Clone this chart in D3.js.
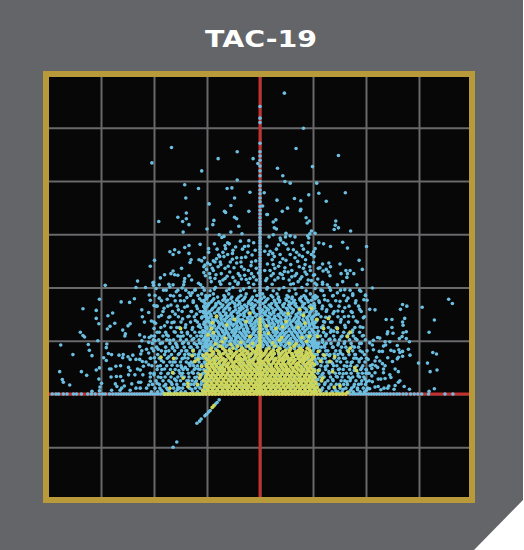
<!DOCTYPE html>
<html><head><meta charset="utf-8">
<script src="https://cdn.jsdelivr.net/npm/d3@7"></script>
<style>html,body{margin:0;padding:0;background:#fff}svg{display:block}</style></head>
<body><div id="c"></div>
<script>
const chartTitle = "TAC-19";
const xTickValues = [-3,-2,-1,0,1,2,3];
const yTickValues = [-1,0,1,2,3,4,5];
// values are in hundredths of an axis unit
const centerBlueY = [3,8,14,19,24,30,35,41,46,52,57,63,68,74,79,85,90,96,101,107,112,118,123,129,134,140,145,151,156,162,167,173,178,184,189,195,200,206,211,217,222,228,233,239,244,250,255,261,266,272,277,283,288,294,300,305,311,318,324,331,338,345,352,361,368,376,383,391,399,410,419,428,439,447,455,471,510,518,540];
const centerYellowY = [3,9,15,21,27,33,39,45,51,57,63,69,75,81,87,93,99,105,111,117,123,129,135,141];
const axisBlueX = [-392,-385,-380,-371,-364,-352,-346,-337,-325,-318,-311,-303,-297,-292,-284,-278,-272,-267,-262,-257,-252,-247,-242,-237,-232,-227,-222,-217,-212,-207,-202,-197,-192,-187,-182,-177,-172,-167,-162,-157,-152,-147,-142,-137,-132,-127,-122,-117,-112,-107,170,175,180,185,190,195,200,205,210,215,220,225,230,235,240,246,252,258,263,270,276,284,291,298,305,318,349,364];
const axisYellowX = [-180,-174,-168,-162,-156,-150,-144,-138,-132,-126,-120,-114,-108,-102,-96,-90,-84,-78,-72,-66,-60,-54,-48,-42,-36,-30,-24,-18,-12,-6,0,6,12,18,24,30,36,42,48,54,60,66,72,78,84,90,96,102,108,114,120,126,132,138,144,150,156,162];
const diagonalBlue = [[-77,-11],[-81,-16],[-84,-19],[-94,-31],[-97,-34],[-101,-38],[-104,-41],[-111,-47],[-114,-51],[-119,-55],[-157,-90],[-164,-100]];
const diagonalYellow = [[-87,-22],[-90,-25]];
const blueSoftTop = [[-94,218],[-83,224],[-70,214],[-62,221],[-47,212],[-38,222],[-26,215],[-12,220],[-3,227],[11,213],[21,222],[34,218],[42,224],[55,214],[66,222],[76,216],[88,225],[97,213],[-90,236],[-74,243],[-60,240],[-44,246],[-30,234],[-17,241],[-8,250],[14,244],[23,252],[35,240],[46,230],[58,243],[71,249],[86,252],[95,232],[-88,250],[-68,258],[-52,253],[-36,248],[-23,266],[-9,270],[16,262],[27,258],[43,254],[57,262],[80,258],[90,266],[-94,243],[-61,262],[-33,272],[-12,284],[13,278],[35,280],[61,284],[-46,276],[-70,266],[-86,282],[-103,222],[103,224],[-106,228],[110,236],[-99,246],[102,258]];
const blueOutliers = [[-167,463],[-204,434],[-79,442],[-43,455],[-13,442],[-4,433],[-110,419],[-43,402],[-142,393],[-116,386],[-62,386],[-53,387],[-19,379],[8,378],[-140,368],[-48,368],[-96,357],[-55,354],[5,353],[-67,343],[-65,341],[-21,343],[-139,340],[-155,332],[14,337],[-139,329],[-146,324],[-191,324],[-48,332],[-44,329],[-87,326],[-89,318],[-134,318],[-40,315],[-100,310],[-145,304],[-55,304],[-34,301],[-77,299],[-72,294],[-68,296],[-37,287],[-21,288],
[46,565],[82,499],[68,461],[148,448],[99,427],[33,424],[43,410],[47,399],[57,396],[107,396],[92,374],[111,377],[161,378],[65,367],[32,364],[77,363],[125,362],[52,349],[77,347],[76,344],[42,343],[13,337],[87,331],[30,327],[25,323],[93,325],[89,321],[143,325],[142,317],[148,312],[140,309],[27,312],[31,310],[171,306],[97,306],[104,302],[94,301],[49,302],[25,299],[17,295],[38,293],[57,297],[66,295],[48,295],[90,297],[92,293],[39,289],[44,284],[49,281],[91,284],[111,284],[120,282],[156,285],[133,277],[165,274],[201,277],[79,279],[82,272],[104,273],[101,267],[53,272],[63,271],[31,272],[19,268],[9,268],[24,264],[69,266],[38,262],[66,256],[74,261],[97,262],[49,251],[187,251],[151,244],[130,246],[118,244],[101,247],[85,243],[74,239],[38,247],[25,243],[113,237],[125,234],[133,239],[193,234],[170,232],[162,232],[129,229],[119,231],[153,226],[165,226],[177,226],[132,222],[164,219],[109,216],[156,211],[118,206],[19,232],[28,236],[47,237],[60,232],[82,236],[94,239],[85,229],[69,226],[53,229],[38,226],[25,226],[9,232],[79,220],[60,220],[44,217],[28,214],[13,217],[101,223],[91,214],[72,211],[63,207],
[-61,284],[-58,282],[-66,279],[-65,273],[-29,277],[-22,278],[-113,281],[-134,279],[-142,275],[-161,271],[-170,267],[-164,262],[-153,266],[-134,264],[-97,273],[-97,266],[-51,270],[-52,264],[-81,272],[-78,261],[-44,256],[-35,256],[-27,257],[-15,261],[-199,251],[-130,252],[-132,247],[-115,252],[-110,250],[-105,256],[-104,242],[-82,254],[-76,258],[-85,248],[-75,248],[-56,248],[-16,248],[-207,240],[-101,234],[-148,236],[-164,231],[-168,226],[-180,224],[-188,218],[-161,224],[-155,223],[-134,222],[-142,217],[-129,214],[-143,211],[-172,206],[-202,209],[-106,239],[-88,232],[-79,239],[-66,236],[-49,237],[-35,239],[-22,232],[-7,236],[-95,226],[-73,226],[-57,229],[-41,226],[-29,223],[-16,226],[-85,217],[-66,217],[-51,219],[-35,216],[-19,217],[-92,211],[-76,211],[-57,207],[-41,209],[-22,209],[-7,214],
[-231,212],[-292,204],[-234,200],[-216,200],[-201,210],[-201,204],[-209,186],[-207,176],[-303,178],[-262,173],[-246,172],[-237,179],[-200,166],[-334,160],[-309,157],[-223,158],[-278,152],[-287,147],[-210,153],[-222,145],[-309,142],[-304,132],[-218,135],[-205,137],[-274,133],[-245,132],[-249,128],[-283,127],[-288,122],[-259,120],[-254,113],[-255,109],[-200,123],[-339,116],[-334,110],[-331,107],[-227,111],[-218,107],[-209,106],[-205,109],[-306,100],[-223,100],[-210,97],[-201,102],[-376,92],[-324,93],[-289,94],[-290,87],[-227,89],[-214,84],[-204,86],[-322,82],[-353,74],[-317,72],[-286,76],[-280,74],[-266,73],[-258,74],[-240,73],[-223,81],[-225,75],[-210,77],[-295,68],[-290,63],[-259,68],[-249,70],[-245,65],[-234,65],[-227,65],[-222,61],[-215,60],[-207,67],[-272,52],[-263,53],[-284,47],[-281,47],[-248,50],[-245,44],[-231,47],[-220,52],[-210,55],[-303,49],[-309,45],[-378,42],[-337,42],[-327,35],[-373,27],[-371,22],[-359,17],[-304,28],[-299,20],[-302,13],[-303,6],[-281,32],[-271,33],[-263,33],[-259,25],[-248,36],[-236,36],[-226,45],[-221,36],[-207,39],[-273,19],[-270,14],[-261,11],[-256,15],[-242,19],[-229,22],[-225,22],[-234,11],[-226,11],[-210,17],[-214,11],[-207,24],[-317,5],[-280,7],[-264,7],[-245,7],
[212,199],[199,186],[202,176],[356,178],[363,170],[269,168],[277,165],[306,163],[207,159],[217,158],[265,159],[273,142],[238,140],[249,140],[269,135],[329,139],[270,129],[249,125],[241,117],[240,113],[251,114],[270,115],[276,117],[319,116],[268,108],[263,104],[276,104],[222,106],[226,105],[214,101],[282,98],[236,98],[245,98],[207,96],[212,92],[233,90],[237,92],[259,91],[280,84],[262,83],[214,83],[247,82],[253,80],[264,78],[269,80],[225,80],[231,80],[326,78],[333,75],[283,73],[269,71],[261,69],[220,69],[241,68],[201,67],[259,66],[217,62],[226,62],[204,65],[250,61],[299,58],[316,58],[231,57],[236,53],[212,55],[222,50],[255,47],[261,42],[334,45],[321,42],[211,48],[218,53],[233,47],[201,45],[245,36],[247,31],[233,40],[217,40],[206,39],[200,39],[211,34],[228,28],[223,28],[236,29],[264,25],[261,22],[212,23],[201,23],[243,15],[255,16],[272,14],[234,11],[241,11],[228,8],[207,10],[201,7],[253,9],[282,9],[329,10],[319,5],[217,13],[223,14]];
const blueLeftWing = [[-196,198],[-182,195],[-170,201],[-158,192],[-147,199],[-134,190],[-122,196],[-110,188],[-190,180],[-175,178],[-163,184],[-150,175],[-138,181],[-126,172],[-114,179],[-103,170],[-196,165],[-181,161],[-168,167],[-154,158],[-142,163],[-130,155],[-118,160],[-106,152],[-186,148],[-172,144],[-160,150],[-146,141],[-134,146],[-122,138],[-110,143],[-102,135],[-197,133],[-180,128],[-166,134],[-152,125],[-140,130],[-128,121],[-116,127],[-104,118],[-190,116],[-176,111],[-162,117],[-150,108],[-137,113],[-125,104],[-112,109],[-101,100],[-198,100],[-184,96],[-170,101],[-157,92],[-144,97],[-132,88],[-120,93],[-108,85],[-192,84],[-178,80],[-165,86],[-152,76],[-140,81],[-127,73],[-114,78],[-103,70],[-199,68],[-186,63],[-172,70],[-160,60],[-147,66],[-134,57],[-122,62],[-110,55],[-193,52],[-180,47],[-166,54],[-153,44],[-141,50],[-128,41],[-116,47],[-104,40],[-200,36],[-187,31],[-174,38],[-161,28],[-148,34],[-135,25],[-123,31],[-110,23],[-194,20],[-181,15],[-168,22],[-155,12],[-142,18],[-129,9],[-117,15],[-104,7],[-156,8],[-186,7],[-174,8],[-148,50],[-135,75],[-122,48],[-110,36],[-142,68],[-128,58],[-116,70],[-104,58],[-135,39],[-122,22],[-104,28],[-114,96],[-126,83],[-108,115],[-114,130],[-120,150],[-106,164],[-102,182],[-108,200],[-116,208],[-128,190]];
const blueRightWing = [[104,198],[118,194],[131,200],[146,190],[160,196],[175,188],[190,193],[108,182],[122,177],[137,184],[151,174],[166,180],[180,171],[196,177],[103,166],[117,160],[132,167],[147,156],[160,162],[174,153],[188,159],[110,150],[124,144],[138,151],[153,140],[167,146],[181,137],[195,143],[104,134],[119,128],[133,135],[146,124],[160,129],[175,120],[189,126],[110,118],[125,112],[139,118],[153,107],[167,113],[180,104],[195,110],[103,102],[118,97],[132,103],[147,92],[160,98],[174,89],[188,95],[109,87],[124,81],[138,88],[152,77],[165,82],[179,74],[193,79],[102,72],[117,66],[131,72],[145,62],[158,67],[172,59],[187,64],[108,57],[123,51],[137,57],[150,47],[164,52],[178,44],[192,49],[103,42],[117,36],[130,42],[144,33],[157,38],[171,29],[185,34],[198,28],[109,27],[123,21],[137,27],[150,18],[164,23],[177,14],[191,19],[103,12],[116,7],[130,13],[143,6],[157,9],[171,7],[184,8],[112,44],[126,60],[140,75],[108,74],[122,92],[104,110],[116,125],[108,140],[120,136],[134,120],[112,172],[126,158],[104,208],[118,210]];
const blueRowY = [5,15,25,35,45,55,65,75,85,92,98,104,110,116,122,128,134,140,146,152,158,164,170,176,182,188,194,200,206,
  89,95,101,107,113,119,125,131,137,143,149,155,161,167,173,179,185,197];
const blueRowX = [
[-96,-84,-71,-60,-45,-33,-20,-7,10,23,36,48,61,74,88,99],
[-99,-88,-74,-62,-50,-37,-24,-10,7,19,32,44,58,70,84,96],
[-94,-81,-69,-56,-43,-30,-16,-5,12,26,39,52,64,78,90,101],
[-100,-86,-73,-59,-47,-34,-21,-8,8,21,34,47,60,72,86,97],
[-97,-83,-70,-58,-44,-31,-18,-6,11,24,37,50,63,76,89,103],
[-102,-89,-75,-63,-49,-36,-23,-11,6,18,31,45,57,71,83,98],
[-95,-82,-68,-55,-42,-29,-15,-4,13,27,40,53,66,79,91,104],
[-101,-87,-74,-61,-48,-35,-22,-9,9,22,35,49,62,75,87,100],
[-96,-84,-70,-57,-45,-32,-19,-6,12,25,38,51,65,77,92,102],
[-104,-95,-87,-78,-70,-61,-53,-44,-36,-27,-19,-10,-3,6,14,23,31,40,48,57,65,74,82,91,99,106],
[-101,-92,-84,-75,-66,-58,-49,-41,-32,-24,-15,-7,3,10,19,27,36,44,53,61,70,78,87,95,103],
[-105,-97,-88,-80,-71,-63,-54,-45,-37,-28,-20,-11,-2,7,15,24,32,41,49,58,66,75,83,92,100],
[-102,-93,-85,-76,-68,-59,-50,-42,-33,-25,-16,-8,4,11,20,28,37,45,54,62,71,79,88,96,104],
[-104,-96,-87,-79,-70,-62,-53,-46,-38,-29,-21,-12,-3,8,16,25,33,42,50,59,67,76,84,93,101],
[-100,-91,-83,-74,-65,-57,-48,-40,-31,-23,-14,-6,5,12,21,29,38,46,55,63,72,80,89,97],
[-103,-94,-86,-77,-69,-60,-51,-43,-34,-26,-17,-9,2,9,18,26,35,43,52,60,69,77,86,94,102],
[-105,-95,-88,-78,-72,-61,-55,-44,-37,-27,-20,-10,-4,7,17,24,34,41,51,58,68,75,85,92,99],
[-101,-90,-84,-73,-67,-56,-50,-39,-33,-22,-16,-5,6,13,23,30,40,47,56,64,73,81,90,98],
[-104,-92,-82,-71,-60,-52,-41,-30,-19,-8,4,15,28,36,49,57,70,82,91,101],
[-98,-86,-76,-64,-54,-43,-31,-21,-11,7,18,26,39,47,60,72,83,94],
[-103,-91,-79,-68,-58,-46,-36,-24,-13,5,16,29,38,52,63,74,88,99],
[-100,-85,-72,-62,-47,-35,-25,-12,9,20,33,44,56,69,80,93],
[-96,-83,-75,-57,-48,-38,-22,-15,6,22,31,46,59,67,84,102],
[-105,-89,-70,-61,-44,-33,-18,-9,12,27,37,50,65,76,90,97],
[-99,-80,-66,-53,-40,-28,-14,8,24,35,54,61,78,86,100],
[-88,-59,-26,5,32,68,95],
[-94,-63,-37,-10,25,55,87],
[-84,-51,-20,14,45,79],
[-74,-42,-12,23,58,89],
[-108,-99,-90,-79,-72,-64,-51,-43,-35,-26,-13,-2,5,17,28,34,46,55,66,73,80,94,101,110],
[-100,-93,-81,-67,-56,-47,-39,-30,-18,-9,3,13,22,30,39,50,59,68,81,89,98,107],
[-107,-98,-83,-73,-65,-55,-47,-34,-22,-14,-5,8,18,29,37,46,56,69,77,91,100],
[-103,-89,-81,-72,-57,-46,-40,-30,-18,-6,2,13,22,33,40,51,64,73,83,90,105],
[-98,-90,-78,-66,-60,-48,-35,-27,-13,-2,9,16,30,39,47,60,70,79,94,108],
[-108,-94,-82,-71,-64,-52,-45,-31,-24,-10,1,14,25,31,43,55,65,74,85,99],
[-100,-89,-79,-65,-58,-44,-37,-25,-12,-2,11,22,33,41,49,61,67,82,92,103],
[-106,-92,-75,-70,-55,-49,-35,-28,-15,-3,9,19,27,41,47,57,72,78,93,100],
[-97,-87,-80,-66,-59,-45,-41,-29,-17,-8,4,16,31,36,52,62,71,83,91,107],
[-110,-96,-82,-74,-63,-52,-43,-24,-14,3,18,27,39,50,66,74,88,97],
[-102,-93,-75,-65,-55,-37,-30,-19,-6,10,21,34,44,54,68,77,94,105],
[-108,-95,-81,-69,-50,-40,-28,-13,2,11,25,41,53,62,76,88,96],
[-104,-89,-77,-65,-57,-39,-32,-16,-3,13,23,35,50,59,74,85,103],
[-97,-83,-70,-60,-42,-29,-17,-9,17,30,43,54,66,81,96],
[-106,-92,-78,-64,-52,-39,-21,-4,10,28,37,55,63,79,91],
[-101,-87,-67,-55,-43,-30,-16,3,15,34,49,60,75,87,104],
[-95,-68,-36,-6,21,51,83],
[-86,-58,-31,13,36,66]];
const yellowRowY = [4,10,16,22,28,34,40,46,52,58,64,70,76,82, 7,13,19,25,31,37,43,49,55,61,67,73,79,86,90];
const yellowRowX = [
[-103,-94,-85,-75,-66,-57,-48,-38,-29,-20,-10,-3,6,15,25,34,43,53,62,71,80,90,99,106],
[-99,-90,-81,-71,-62,-53,-44,-34,-25,-16,-6,2,11,20,29,39,48,57,67,76,85,94,103],
[-104,-96,-86,-77,-68,-59,-49,-40,-31,-22,-12,-4,8,17,26,36,45,54,63,73,82,92,101],
[-101,-92,-82,-73,-64,-54,-45,-36,-27,-17,-8,3,13,22,31,41,50,59,68,78,87,96,105],
[-97,-88,-79,-69,-60,-51,-42,-32,-23,-14,-5,6,15,24,33,43,52,61,70,80,89,98],
[-102,-93,-84,-74,-65,-56,-47,-37,-28,-19,-9,1,10,19,28,38,47,56,65,75,84,93,102],
[-99,-89,-80,-71,-61,-52,-43,-33,-24,-15,-6,5,14,23,32,42,51,60,69,79,88,97],
[-95,-86,-76,-67,-58,-49,-39,-30,-21,-11,-2,8,17,26,35,44,54,63,72,82,91,100],
[-101,-91,-82,-73,-63,-54,-45,-35,-26,-17,-7,2,12,21,30,40,49,58,67,77,86,95],
[-96,-87,-78,-68,-59,-50,-40,-31,-22,-13,-4,7,16,25,34,44,53,62,71,81,90,99],
[-99,-89,-72,-64,-55,-41,-33,-20,-12,-3,10,18,29,37,46,59,66,77,85,97],
[-95,-83,-74,-60,-52,-43,-29,-21,-9,3,14,23,36,45,52,63,74,83,92,102],
[-101,-90,-78,-69,-56,-47,-35,-25,-16,-5,8,19,27,40,50,60,70,79,90,96],
[-93,-81,-66,-58,-38,-28,-14,-6,12,25,33,48,56,72,80,94],
[-108,-98,-89,-80,-70,-61,-52,-43,-33,-24,-15,-6,2,10,20,30,38,48,58,66,75,85,94,104,112],
[-105,-94,-86,-76,-66,-58,-49,-39,-29,-21,-11,-1,7,16,24,34,44,52,62,72,80,90,98,108],
[-100,-91,-81,-72,-63,-54,-44,-35,-26,-17,-7,1,12,21,31,40,49,58,68,77,87,96,106],
[-106,-97,-87,-78,-69,-59,-50,-41,-32,-22,-13,-2,8,18,27,36,46,55,64,74,83,92,100],
[-102,-92,-83,-74,-65,-55,-46,-37,-28,-18,-9,2,11,19,29,38,47,57,66,75,85,94,104],
[-98,-90,-79,-70,-62,-52,-41,-32,-24,-15,-4,4,13,24,32,41,51,60,71,78,88,99],
[-103,-94,-84,-75,-67,-56,-47,-38,-27,-19,-10,-1,9,20,28,37,48,56,65,76,83,93,102],
[-97,-88,-78,-71,-59,-50,-42,-33,-23,-15,-5,3,14,22,33,42,50,61,70,79,89,96],
[-100,-92,-83,-69,-61,-51,-38,-30,-19,-9,0,9,21,31,39,47,57,68,73,87,94,103],
[-94,-85,-76,-66,-53,-46,-36,-24,-16,-2,5,15,26,35,43,55,64,75,82,93],
[-102,-87,-79,-70,-57,-44,-37,-27,-11,-3,12,22,30,42,51,58,72,81,88,99],
[-96,-91,-75,-62,-50,-39,-31,-18,-7,6,16,24,38,47,61,69,78,86,98],
[-88,-77,-65,-54,-44,-32,-23,-10,2,11,21,35,43,55,67,75,87,95],
[-92,-70,-51,-34,-17,-4,17,37,58,76,89],
[-75,-42,-22,-5,28,64]];
const blueExtraRowY = [4,11,18,25,32,39,46,53,60,67,74,81,88,95,102,109,116,125,135,145,155,165,175,185,195,205];
const blueExtraRowLeft = [
[-205,-193,-184,-171,-160,-149,-141,-127,-118,-108],
[-198,-189,-176,-163,-152,-146,-133,-122,-113,-102],
[-203,-190,-178,-166,-157,-144,-131,-125,-111,-104],
[-196,-183,-172,-158,-150,-138,-128,-120,-107,-101],
[-207,-192,-179,-168,-155,-143,-134,-119,-112,-103],
[-200,-187,-173,-163,-151,-146,-126,-117,-108,-102],
[-194,-185,-169,-160,-145,-137,-124,-113,-106,-100],
[-204,-188,-176,-156,-149,-132,-125,-118,-110,-101],
[-197,-182,-170,-164,-150,-139,-130,-115,-105,-103],
[-206,-190,-175,-158,-146,-136,-121,-112,-107,-100],
[-193,-180,-167,-154,-142,-133,-123,-116,-109,-102],
[-201,-186,-172,-161,-148,-138,-127,-113,-105,-99],
[-195,-178,-165,-156,-143,-130,-118,-108,-102],
[-203,-188,-170,-159,-146,-135,-124,-111,-104],
[-191,-176,-163,-150,-139,-128,-115,-107,-100],
[-199,-183,-173,-155,-145,-131,-119,-110,-103],
[-194,-178,-160,-148,-137,-123,-114,-104],
[-187,-168,-157,-141,-127,-112,-103],
[-200,-175,-162,-149,-131,-118,-105],
[-191,-170,-154,-136,-124,-109,-101],
[-183,-165,-147,-129,-113,-103],
[-194,-174,-156,-137,-120,-106],
[-186,-160,-143,-126,-110],
[-198,-169,-151,-131,-117,-102],
[-177,-155,-140,-123,-105],
[-190,-164,-144,-112]];
const blueExtraRowRight = [
[102,114,125,136,147,155,168,176,189,197],
[107,118,130,141,151,162,173,184,195,203],
[100,111,122,134,144,158,165,178,186,199],
[105,116,128,138,153,160,170,181,192,206],
[101,113,121,133,146,155,167,175,188,196],
[109,119,131,142,150,163,172,185,193,204],
[103,112,124,137,148,157,169,179,190,200],
[100,115,127,139,145,159,171,183,194,208],
[106,117,129,135,152,164,174,187,198],
[102,110,123,140,149,161,177,182,191],
[104,119,126,132,147,156,168,180,197],
[100,113,128,143,151,166,175,189,202],
[107,116,122,137,154,162,178,186],
[103,111,125,134,148,159,172,191],
[100,118,130,141,150,169,183,199],
[105,114,124,139,155,164,176,193],
[102,120,133,146,158,174,188],
[108,117,129,144,161,179,194],
[103,122,136,152,167,184],
[100,115,131,147,159,176,197],
[106,125,140,156,172,191],
[101,118,134,149,168,186],
[111,128,143,163,181],
[104,121,138,158,175,199],
[115,133,152,170,188],
[107,127,146,183]];
const yellowScatter = [[-150,123],[-90,134],[-82,146],[-63,130],[-48,140],[-19,152],[-26,136],[-92,123],[-88,115],[-66,105],[-19,108],[-187,69],[-163,67],[-126,81],[-128,72],[-123,61],[-165,40],[-145,30],[-114,30],[-136,20],[-136,14],[-170,11],[-98,111],[-117,65],[53,151],[75,159],[82,148],[85,133],[97,161],[107,140],[129,142],[146,123],[120,123],[170,116],[165,108],[109,108],[49,136],[13,128],[30,123],[43,126],[72,125],[16,114],[41,106],[79,106],[93,108],[55,95],[170,86],[167,80],[121,73],[141,70],[132,61],[179,50],[182,44],[137,42],[116,25],[140,13],[165,3],[151,15],[110,44],[-84,94],[-71,98],[-55,93],[-36,97],[-14,95],[24,96],[37,101],[68,94],[88,99],[-110,52],[-113,36],[-118,18],[114,62],[118,30],[-107,72],[110,80]];

const W = 524, H = 550;
const xScale = d3.scaleLinear().domain([-4,4]).range([48,472]);
const yScale = d3.scaleLinear().domain([-2,6]).range([500.5,74.5]);
const svg = d3.select("#c").append("svg").attr("width",W).attr("height",H);
const bgShape = d3.line()([[0,0],[523,0],[523,500],[474,550],[0,550]]) + "Z";
svg.append("path").attr("d",bgShape).attr("fill","#636569");

svg.append("rect").attr("x",xScale.range()[0]).attr("y",yScale.range()[1]).attr("width",424).attr("height",426).attr("fill","#070707");

const gridX = svg.append("g").attr("transform",`translate(0,${yScale.range()[0]})`)
  .call(d3.axisBottom(xScale).tickValues(xTickValues).tickSizeInner(-426).tickFormat(""));
const gridY = svg.append("g").attr("transform",`translate(${xScale.range()[0]},0)`)
  .call(d3.axisLeft(yScale).tickValues(yTickValues).tickSizeInner(-424).tickFormat(""));
svg.selectAll(".domain").remove();
svg.selectAll(".tick line").attr("stroke","#68696b").attr("stroke-width",2);

const zero = svg.append("g").attr("stroke","#c5312f").attr("stroke-width",3);
zero.append("line").attr("x1",xScale(0)).attr("x2",xScale(0)).attr("y1",yScale(6)).attr("y2",yScale(-2));
zero.append("line").attr("x1",xScale(-4)).attr("x2",xScale(4)).attr("y1",yScale(0)).attr("y2",yScale(0));

const fromRows = (ys,xs) => ys.flatMap((y,i)=>xs[i].map(x=>[x,y]));
const bluePoints = [
  ...fromRows(blueRowY,blueRowX), ...fromRows(blueExtraRowY,blueExtraRowLeft), ...fromRows(blueExtraRowY,blueExtraRowRight),
  ...blueLeftWing, ...blueRightWing, ...blueSoftTop, ...blueOutliers, ...diagonalBlue,
  ...centerBlueY.map(y=>[0,y]), ...axisBlueX.map(x=>[x,0])
];
const yellowPoints = [
  ...fromRows(yellowRowY,yellowRowX), ...yellowScatter, ...diagonalYellow,
  ...centerYellowY.map(y=>[0,y]), ...axisYellowX.map(x=>[x,0])
];
function dots(pts,color,r){
  svg.append("g").selectAll("circle").data(pts).join("circle")
    .attr("cx",d=>xScale(d[0]/100)).attr("cy",d=>yScale(d[1]/100)).attr("r",r).attr("fill",color);
}
dots(bluePoints,"#6cbfe0",1.8);
dots(yellowPoints,"#cdd65c",1.9);

// frame
svg.append("rect").attr("x",46).attr("y",74).attr("width",426).attr("height",426)
  .attr("fill","none").attr("stroke","#b99a3b").attr("stroke-width",6);

svg.append("text").attr("x",205).attr("y",47).attr("fill","#fff")
  .attr("font-family","'DejaVu Sans',sans-serif").attr("font-weight","bold").attr("font-size",23.5)
  .attr("textLength",112).attr("lengthAdjust","spacingAndGlyphs").text(chartTitle);
</script></body></html>
